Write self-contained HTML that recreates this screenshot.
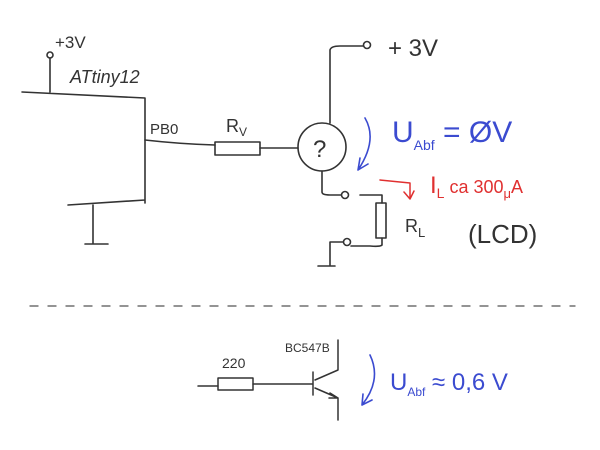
<!DOCTYPE html>
<html><head><style>body{margin:0;background:#fff}svg{display:block}text{font-family:"Liberation Sans",sans-serif}</style></head><body>
<svg width="600" height="450" viewBox="0 0 600 450" fill="none" stroke-linecap="round" stroke-linejoin="round">
<g stroke="#333" stroke-width="1.6">
<circle cx="50" cy="55" r="3"/>
<path d="M50 58 V92 M22 92 L145 98 V203 M68 205 L145 200 M93 205 V243 M85 244 H108"/>
<path d="M145 140 Q180 144 215 145 M260 148 H298"/>
<rect x="215" y="142" width="45" height="13"/>
<circle cx="322" cy="147" r="24"/>
<path d="M330 123 V50 Q331 46 340 46 H363"/>
<circle cx="367" cy="45" r="3.5"/>
<path d="M322 171 V192 Q322 195 330 195 H341"/>
<circle cx="345" cy="195" r="3.5"/>
<path d="M360 195 H382 V203 M382 238 V245 Q380 247 370 246 H351"/>
<rect x="376" y="203" width="10" height="35"/>
<circle cx="347" cy="242" r="3.5"/>
<path d="M343 242 H330 V265 M318 266 H335"/>
</g>
<g fill="#333" font-size="17">
<text x="55" y="48">+3V</text>
<text x="70" y="83" font-style="italic" font-size="18">ATtiny12</text>
<text x="150" y="134" font-size="15">PB0</text>
<text x="226" y="132" font-size="18">R<tspan font-size="12" dy="4">V</tspan></text>
<text x="313" y="157" font-size="24">?</text>
<text x="388" y="56" font-size="24">+ 3V</text>
<text x="405" y="232" font-size="18">R<tspan font-size="13" dy="5">L</tspan></text>
<text x="468" y="243" font-size="26">(LCD)</text>
</g>
<g stroke="#3b4bd0" stroke-width="1.6">
<path d="M365 118 Q378 140 358 170 M358 170 L360 158 M358 170 L368 164"/>
<path d="M370 355 Q382 380 362 405 M362 405 L363 394 M362 405 L372 400"/>
</g>
<g fill="#3b4bd0">
<text x="392" y="142" font-size="30">U<tspan font-size="14" dy="8">Abf</tspan><tspan dy="-8"> = ØV</tspan></text>
<text x="390" y="390" font-size="24">U<tspan font-size="12" dy="6">Abf</tspan><tspan dy="-6"> ≈ 0,6 V</tspan></text>
</g>
<g stroke="#e03030" stroke-width="1.5"><path d="M380 180 L410 183 V198 M404 192 L410 199 L414 191"/></g>
<text x="430" y="193" fill="#e03030" font-size="24">I<tspan font-size="14" dy="5">L</tspan><tspan font-size="18" dy="-5"> ca 300</tspan><tspan font-size="13" dy="5">μ</tspan><tspan font-size="18" dy="-5">A</tspan></text>
<path d="M30 306 H575" stroke="#555" stroke-width="1.3" stroke-dasharray="8 10"/>
<g stroke="#333" stroke-width="1.5">
<path d="M198 386 H218 M253 384 H312 M313 372 V395 M315 380 L338 370 V340 M315 388 L338 398 V420 M338 398 L330 393 M338 398 L329 398"/>
<rect x="218" y="378" width="35" height="12"/>
</g>
<text x="285" y="352" fill="#333" font-size="12">BC547B</text>
<text x="222" y="368" fill="#333" font-size="14">220</text>
</svg>
</body></html>
